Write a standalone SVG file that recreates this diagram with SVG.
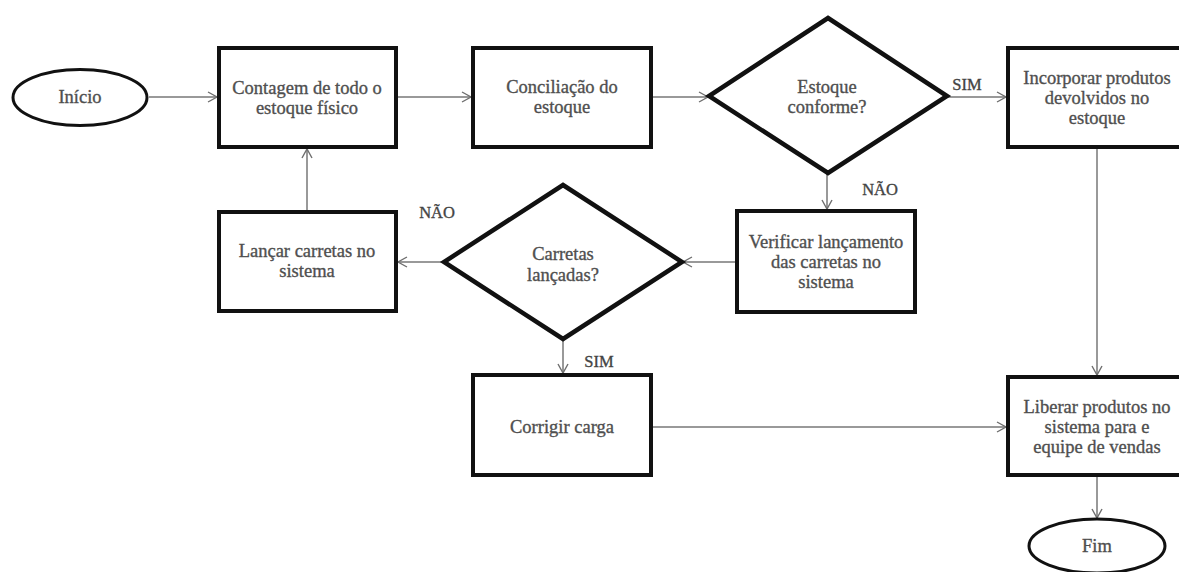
<svg xmlns="http://www.w3.org/2000/svg" width="1179" height="572" viewBox="0 0 1179 572">
  <defs>
    <marker id="arrow" markerUnits="userSpaceOnUse" markerWidth="12" markerHeight="12" refX="10" refY="6" orient="auto">
      <path d="M1,1 L10,6 L1,11" fill="none" stroke="#6e6e6e" stroke-width="1.4"/>
    </marker>
  </defs>
  <style>
    .box { fill: #ffffff; stroke: #111111; stroke-width: 4; }
    .dec { fill: #ffffff; stroke: #111111; stroke-width: 4.5; stroke-linejoin: miter; }
    .term { fill: #ffffff; stroke: #111111; stroke-width: 3; }
    .lbl { font-family: "Liberation Serif", "Times New Roman", serif; font-size: 18.5px; fill: #4f4f4f; stroke: #4f4f4f; stroke-width: 0.35; text-anchor: middle; }
    .tag { font-family: "Liberation Serif", "Times New Roman", serif; font-size: 16.5px; fill: #444444; stroke: #444444; stroke-width: 0.35; text-anchor: middle; }
    .edge { fill: none; stroke: #777777; stroke-width: 1.5; marker-end: url(#arrow); }
  </style>
  <rect width="1179" height="572" fill="#ffffff"/>

  <!-- connectors -->
  <g id="connectors">
    <line class="edge" x1="149" y1="97" x2="217" y2="97"/>
    <line class="edge" x1="398" y1="97" x2="471" y2="97"/>
    <line class="edge" x1="653" y1="97" x2="708" y2="97"/>
    <line class="edge" x1="948" y1="97" x2="1006" y2="97"/>
    <line class="edge" x1="827" y1="174" x2="827" y2="209"/>
    <line class="edge" x1="735" y1="262" x2="683" y2="262"/>
    <line class="edge" x1="443" y1="262" x2="398" y2="262"/>
    <line class="edge" x1="307" y1="210" x2="307" y2="149"/>
    <line class="edge" x1="563" y1="340" x2="563" y2="373"/>
    <line class="edge" x1="653" y1="427" x2="1006" y2="427"/>
    <line class="edge" x1="1097" y1="149" x2="1097" y2="375"/>
    <line class="edge" x1="1097" y1="477" x2="1097" y2="518"/>
    <text class="tag" x="967" y="90">SIM</text>
    <text class="tag" x="880" y="195">NÃO</text>
    <text class="tag" x="437" y="218">NÃO</text>
    <text class="tag" x="599" y="367">SIM</text>
  </g>

  <g id="inicio">
    <ellipse class="term" cx="80" cy="97.5" rx="67" ry="28"/>
    <text class="lbl" x="80" y="103">Início</text>
  </g>

  <g id="contagem">
    <rect class="box" x="219" y="48" width="177" height="99"/>
    <text class="lbl" x="307" y="94">Contagem de todo o</text>
    <text class="lbl" x="307" y="114">estoque físico</text>
  </g>

  <g id="conciliacao">
    <rect class="box" x="473" y="48" width="178" height="99"/>
    <text class="lbl" x="562" y="93">Conciliação do</text>
    <text class="lbl" x="562" y="113">estoque</text>
  </g>

  <g id="estoque-conforme">
    <polygon class="dec" points="828,18 947,96 828,173 709,96"/>
    <text class="lbl" x="827" y="93">Estoque</text>
    <text class="lbl" x="827" y="113">conforme?</text>
  </g>

  <g id="incorporar">
    <rect class="box" x="1008" y="48" width="180" height="99"/>
    <text class="lbl" x="1097" y="84">Incorporar produtos</text>
    <text class="lbl" x="1097" y="104">devolvidos no</text>
    <text class="lbl" x="1097" y="124">estoque</text>
  </g>

  <g id="verificar">
    <rect class="box" x="737" y="211" width="178" height="101"/>
    <text class="lbl" x="826" y="248">Verificar lançamento</text>
    <text class="lbl" x="826" y="268">das carretas no</text>
    <text class="lbl" x="826" y="288">sistema</text>
  </g>

  <g id="carretas-lancadas">
    <polygon class="dec" points="563,185 682,262 563,339 444,262"/>
    <text class="lbl" x="563" y="260">Carretas</text>
    <text class="lbl" x="563" y="281">lançadas?</text>
  </g>

  <g id="lancar">
    <rect class="box" x="219" y="212" width="177" height="99"/>
    <text class="lbl" x="307" y="257">Lançar carretas no</text>
    <text class="lbl" x="307" y="277">sistema</text>
  </g>

  <g id="corrigir">
    <rect class="box" x="473" y="375" width="178" height="100"/>
    <text class="lbl" x="562" y="433">Corrigir carga</text>
  </g>

  <g id="liberar">
    <rect class="box" x="1008" y="377" width="180" height="98"/>
    <text class="lbl" x="1097" y="413">Liberar produtos no</text>
    <text class="lbl" x="1097" y="433">sistema para e</text>
    <text class="lbl" x="1097" y="453">equipe de vendas</text>
  </g>

  <g id="fim">
    <ellipse class="term" cx="1097" cy="546" rx="68" ry="27"/>
    <text class="lbl" x="1097" y="552">Fim</text>
  </g>
</svg>
